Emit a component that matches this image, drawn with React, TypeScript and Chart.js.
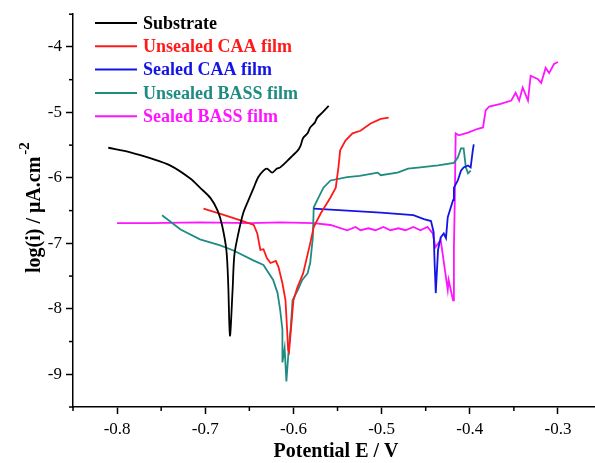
import React, { useEffect, useRef } from "react";
import { Chart, registerables } from "chart.js";

Chart.register(...registerables);

// ---------- data (Potential E / V vs log(i)) ----------
const substrateE = [-0.810, -0.785, -0.7625, -0.740, -0.717, -0.706, -0.694, -0.686, -0.681, -0.676, -0.674, -0.672, -0.669, -0.667, -0.6625, -0.657, -0.651, -0.645, -0.640, -0.634, -0.630, -0.624, -0.619, -0.615, -0.607, -0.601, -0.595, -0.592, -0.589, -0.584, -0.581, -0.576, -0.573, -0.567, -0.560];
const substrateLogI = [-5.54, -5.61, -5.70, -5.81, -6.01, -6.15, -6.31, -6.50, -6.72, -7.11, -7.61, -8.41, -7.71, -7.18, -6.85, -6.54, -6.34, -6.15, -5.99, -5.89, -5.86, -5.92, -5.86, -5.84, -5.74, -5.66, -5.58, -5.51, -5.39, -5.32, -5.23, -5.16, -5.08, -5.00, -4.90];

const unsealedCaaE = [-0.702, -0.680, -0.660, -0.645, -0.641, -0.6375, -0.634, -0.630, -0.626, -0.620, -0.617, -0.6125, -0.609, -0.607, -0.606, -0.605, -0.600, -0.5955, -0.589, -0.581, -0.577, -0.569, -0.558, -0.552, -0.549, -0.547, -0.541, -0.533, -0.524, -0.5125, -0.501, -0.492];
const unsealedCaaLogI = [-6.47, -6.56, -6.65, -6.72, -6.85, -7.10, -7.09, -7.23, -7.30, -7.27, -7.36, -7.61, -7.87, -8.37, -8.63, -8.66, -7.87, -7.67, -7.46, -7.00, -6.75, -6.54, -6.30, -6.15, -5.84, -5.58, -5.43, -5.32, -5.28, -5.17, -5.10, -5.08];

const sealedCaaE = [-0.577, -0.539, -0.501, -0.464, -0.452, -0.444, -0.441, -0.440, -0.4386, -0.436, -0.433, -0.4295, -0.427, -0.425, -0.419, -0.418, -0.4136, -0.410, -0.407, -0.402, -0.399, -0.3966, -0.3955];
const sealedCaaLogI = [-6.47, -6.50, -6.53, -6.57, -6.63, -6.66, -6.83, -7.26, -7.76, -7.10, -6.91, -6.85, -6.92, -6.60, -6.34, -6.15, -6.04, -5.89, -5.84, -5.81, -5.84, -5.58, -5.49];

const unsealedBassE = [-0.749, -0.728, -0.706, -0.683, -0.668, -0.6455, -0.634, -0.623, -0.618, -0.615, -0.6125, -0.6125, -0.610, -0.608, -0.605, -0.603, -0.601, -0.595, -0.590, -0.584, -0.581, -0.578, -0.577, -0.573, -0.566, -0.558, -0.539, -0.525, -0.509, -0.5045, -0.501, -0.482, -0.470, -0.456, -0.436, -0.418, -0.4136, -0.410, -0.407, -0.4045, -0.402, -0.399];
const unsealedBassLogI = [-6.57, -6.79, -6.94, -7.03, -7.11, -7.26, -7.33, -7.56, -7.76, -8.02, -8.32, -8.82, -8.60, -9.11, -8.55, -8.28, -7.87, -7.71, -7.56, -7.46, -7.30, -6.91, -6.45, -6.34, -6.15, -6.04, -5.99, -5.97, -5.93, -5.92, -5.96, -5.92, -5.86, -5.84, -5.81, -5.77, -5.69, -5.55, -5.55, -5.84, -5.93, -5.89];

const sealedBassE = [-0.800, -0.7625, -0.7057, -0.649, -0.615, -0.577, -0.558, -0.539, -0.5295, -0.524, -0.515, -0.507, -0.498, -0.490, -0.481, -0.473, -0.464, -0.456, -0.448, -0.442, -0.439, -0.433, -0.425, -0.424, -0.419, -0.418, -0.417, -0.416, -0.4125, -0.402, -0.391, -0.385, -0.382, -0.378, -0.365, -0.353, -0.348, -0.344, -0.340, -0.334, -0.331, -0.323, -0.319, -0.314, -0.310, -0.3045, -0.300];
const sealedBassLogI = [-6.69, -6.69, -6.68, -6.69, -6.68, -6.69, -6.72, -6.80, -6.75, -6.80, -6.77, -6.80, -6.75, -6.80, -6.77, -6.80, -6.75, -6.80, -6.75, -6.85, -7.06, -6.95, -7.71, -7.56, -7.87, -7.06, -6.34, -5.32, -5.35, -5.31, -5.25, -5.23, -4.97, -4.91, -4.87, -4.82, -4.70, -4.82, -4.62, -4.82, -4.44, -4.49, -4.55, -4.32, -4.40, -4.26, -4.23];

const seriesLabels = ["Substrate", "Unsealed CAA film", "Sealed CAA film", "Unsealed BASS film", "Sealed BASS film"];
const seriesColors = ["#000000", "#ff1a1a", "#1414e6", "#1f8c82", "#ff14ff"];
const seriesTension = [0.3, 0, 0, 0, 0];

const xMajorTicks = [-0.8, -0.7, -0.6, -0.5, -0.4, -0.3];
const xMinorTicks = [-0.85, -0.75, -0.65, -0.55, -0.45, -0.35];
const yMajorTicks = [-9, -8, -7, -6, -5, -4];
const yMinorTicks = [-9.5, -8.5, -7.5, -6.5, -5.5, -4.5, -3.5];

const xTitle = "Potential E / V";
const yTitle = "log(i) / \u03bcA.cm";
const yTitleSup = "-2";

const FONT = "'Liberation Serif', 'Times New Roman', serif";

function pairs(xs: number[], ys: number[]) {
  return xs.map((x, i) => ({ x, y: ys[i] }));
}

const decorPlugin = {
  id: "decor",
  afterDraw(chart: any) {
    const ctx = chart.ctx;
    const xs = chart.scales.x;
    const ys = chart.scales.y;
    const area = chart.chartArea;
    ctx.save();
    // minor ticks
    ctx.strokeStyle = "#000";
    ctx.lineWidth = 1.5;
    xMinorTicks.forEach((v) => {
      const px = xs.getPixelForValue(v);
      ctx.beginPath();
      ctx.moveTo(px, area.bottom);
      ctx.lineTo(px, area.bottom + 4);
      ctx.stroke();
    });
    yMinorTicks.forEach((v) => {
      const py = ys.getPixelForValue(v);
      ctx.beginPath();
      ctx.moveTo(area.left, py);
      ctx.lineTo(area.left - 4, py);
      ctx.stroke();
    });
    // legend
    chart.data.datasets.forEach((ds: any, i: number) => {
      const y = 23 + i * 23.3;
      ctx.strokeStyle = ds.borderColor;
      ctx.lineWidth = 2;
      ctx.beginPath();
      ctx.moveTo(95, y);
      ctx.lineTo(137, y);
      ctx.stroke();
      ctx.fillStyle = ds.borderColor;
      ctx.font = `bold 18px ${FONT}`;
      ctx.textAlign = "left";
      ctx.textBaseline = "middle";
      ctx.fillText(ds.label, 143, y + 1);
    });
    // x title
    ctx.fillStyle = "#000";
    ctx.font = `bold 20px ${FONT}`;
    ctx.textAlign = "center";
    ctx.textBaseline = "middle";
    ctx.fillText(xTitle, (area.left + area.right) / 2 + 2, 452);
    // y title (rotated)
    ctx.translate(40, 273);
    ctx.rotate(-Math.PI / 2);
    ctx.textAlign = "left";
    ctx.textBaseline = "alphabetic";
    ctx.font = `bold 20px ${FONT}`;
    ctx.fillText(yTitle, 0, 0);
    const w = ctx.measureText(yTitle).width;
    ctx.font = `bold 15px ${FONT}`;
    ctx.fillText(yTitleSup, w + 2, -11);
    ctx.restore();
  },
};

export default function App() {
  const ref = useRef<HTMLCanvasElement>(null);
  useEffect(() => {
    if (!ref.current) return;
    const sets = [
      pairs(substrateE, substrateLogI),
      pairs(unsealedCaaE, unsealedCaaLogI),
      pairs(sealedCaaE, sealedCaaLogI),
      pairs(unsealedBassE, unsealedBassLogI),
      pairs(sealedBassE, sealedBassLogI),
    ];
    const chart = new Chart(ref.current, {
      type: "scatter",
      data: {
        datasets: sets.map((d, i) => ({
          label: seriesLabels[i],
          data: d,
          showLine: true,
          borderColor: seriesColors[i],
          backgroundColor: seriesColors[i],
          borderWidth: 1.8,
          pointRadius: 0,
          tension: seriesTension[i],
        })),
      },
      options: {
        animation: false,
        responsive: false,
        layout: { padding: { top: 13, left: 0, right: 0, bottom: 0 } },
        plugins: { legend: { display: false }, tooltip: { enabled: false } },
        scales: {
          x: {
            type: "linear",
            min: -0.85,
            max: -0.258,
            afterBuildTicks: (s: any) => {
              s.ticks = xMajorTicks.map((v) => ({ value: v }));
            },
            afterFit: (s: any) => {
              s.height = 56;
            },
            ticks: {
              color: "#000",
              font: { family: FONT, size: 17 },
              padding: 5,
              maxRotation: 0,
              autoSkip: false,
              callback: (v: any) => String(Number(v).toFixed(1)),
            },
            grid: { display: true, drawOnChartArea: false, drawTicks: true, tickLength: 7, tickColor: "#000", tickWidth: 1.5 },
            border: { display: true, color: "#000", width: 1.5 },
          },
          y: {
            type: "linear",
            min: -9.5,
            max: -3.5,
            afterBuildTicks: (s: any) => {
              s.ticks = yMajorTicks.map((v) => ({ value: v }));
            },
            afterFit: (s: any) => {
              s.width = 73;
            },
            ticks: {
              color: "#000",
              font: { family: FONT, size: 17 },
              padding: 4,
              autoSkip: false,
              callback: (v: any) => String(v),
            },
            grid: { display: true, drawOnChartArea: false, drawTicks: true, tickLength: 7, tickColor: "#000", tickWidth: 1.5 },
            border: { display: true, color: "#000", width: 1.5 },
          },
        },
      },
      plugins: [decorPlugin],
    } as any);
    return () => chart.destroy();
  }, []);
  return (
    <div style={{ position: "absolute", left: 0, top: 0, width: 595, height: 463, background: "#fff" }}>
      <canvas ref={ref} width={595} height={463} style={{ display: "block", width: 595, height: 463 }} />
    </div>
  );
}
